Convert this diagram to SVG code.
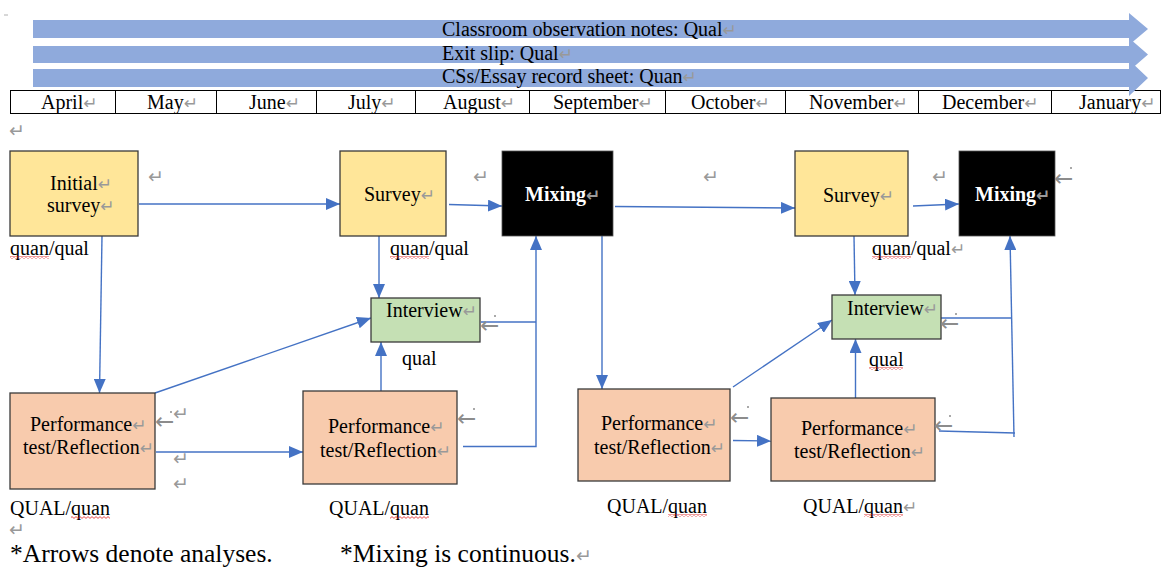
<svg xmlns="http://www.w3.org/2000/svg" width="1162" height="568" viewBox="0 0 1162 568">
  <defs>
    <style>
      text { font-family: "Liberation Serif", "Times New Roman", serif; font-size: 20px; fill: #000; }
      .pm { font-family: "DejaVu Sans", sans-serif; font-size: 19px; fill: #999; }
      .pmi { font-family: "DejaVu Sans", sans-serif; font-size: 17px; fill: #999; }
      .arr { font-family: "DejaVu Sans", sans-serif; font-size: 23px; fill: #8c8c8c; }
      .dot { fill: #8c8c8c; }
      .band { fill: #8FAADC; }
      .cell { fill: none; stroke: #000; stroke-width: 1; }
      .box { stroke: #3a3a3a; stroke-width: 1.3; }
      .yellow { fill: #FFE699; }
      .black { fill: #000; stroke: #555; stroke-width: 0.8; }
      .green { fill: #C5E0B4; }
      .peach { fill: #F8CBAD; }
      .mix { font-weight: bold; fill: #fff; }
      .link { fill: none; stroke: #4472C4; stroke-width: 1.4; }
      .foot { font-size: 25.5px; }
    </style>
    <marker id="head" markerUnits="userSpaceOnUse" markerWidth="14" markerHeight="12" refX="14" refY="6" orient="auto">
      <path d="M0,0 L14,6 L0,12 z" fill="#4472C4"/>
    </marker>
    <pattern id="squiggle" patternUnits="userSpaceOnUse" width="4" height="3">
      <path d="M0,0.6 L2,2.4 L4,0.6" fill="none" stroke="#e02020" stroke-width="0.8"/>
    </pattern>
  </defs>

  <rect width="1162" height="568" fill="#fff"/>
  <line x1="4" y1="15" x2="8" y2="15" stroke="#b0b0b0" stroke-width="1"/>

  <!-- month timeline -->
  <g id="timeline">
    <rect class="cell" x="10.5" y="90.5" width="1150" height="23"/>
    <path class="cell" d="M115.5,90.5V113.5 M216.5,90.5V113.5 M316.5,90.5V113.5 M415.5,90.5V113.5 M529.5,90.5V113.5 M665.5,90.5V113.5 M785.5,90.5V113.5 M918.5,90.5V113.5 M1051.5,90.5V113.5"/>
    <text x="41" y="109">April<tspan class="pmi">↵</tspan></text>
    <text x="147" y="109">May<tspan class="pmi">↵</tspan></text>
    <text x="249" y="109">June<tspan class="pmi">↵</tspan></text>
    <text x="348" y="109">July<tspan class="pmi">↵</tspan></text>
    <text x="443" y="109">August<tspan class="pmi">↵</tspan></text>
    <text x="553" y="109">September<tspan class="pmi">↵</tspan></text>
    <text x="691" y="109">October<tspan class="pmi">↵</tspan></text>
    <text x="809" y="109">November<tspan class="pmi">↵</tspan></text>
    <text x="942" y="109">December<tspan class="pmi">↵</tspan></text>
    <text x="1079" y="109">January<tspan class="pmi">↵</tspan></text>
  </g>

  <!-- continuous data-collection bands -->
  <g id="bands">
    <path class="band" d="M33,20 H1129 V13 L1148,29 L1129,45 V38 H33 z"/>
    <path class="band" d="M33,46 H1129 V38 L1148,54.5 L1129,71 V63 H33 z"/>
    <path class="band" d="M33,69 H1129 V60 L1148,78 L1129,96 V87 H33 z"/>
    <text x="442" y="36">Classroom observation notes: Qual<tspan class="pmi">↵</tspan></text>
    <text x="442" y="60">Exit slip: Qual<tspan class="pmi">↵</tspan></text>
    <text x="442" y="83">CSs/Essay record sheet: Quan<tspan class="pmi">↵</tspan></text>
  </g>

  <!-- connectors -->
  <g id="connectors">
    <path class="link" d="M139,204 L340,204" marker-end="url(#head)"/>
    <path class="link" d="M449,204.5 L502,206" marker-end="url(#head)"/>
    <path class="link" d="M615,206.5 L795,208" marker-end="url(#head)"/>
    <path class="link" d="M913,206 L959,204" marker-end="url(#head)"/>
    <path class="link" d="M102,236 L99.5,393" marker-end="url(#head)"/>
    <path class="link" d="M379,236 L379,298" marker-end="url(#head)"/>
    <path class="link" d="M155,393 L371,318" marker-end="url(#head)"/>
    <path class="link" d="M156,452 L303,452" marker-end="url(#head)"/>
    <path class="link" d="M381,391 L381,342" marker-end="url(#head)"/>
    <path class="link" d="M463,446.5 H536 V236" marker-end="url(#head)"/>
    <path class="link" d="M536,322 H481"/>
    <path class="link" d="M602,236 L602,389" marker-end="url(#head)"/>
    <path class="link" d="M733,387 L832,320" marker-end="url(#head)"/>
    <path class="link" d="M733,440.5 L771,441" marker-end="url(#head)"/>
    <path class="link" d="M854,236 L855,295" marker-end="url(#head)"/>
    <path class="link" d="M855.5,398 L855.5,339" marker-end="url(#head)"/>
    <path class="link" d="M939,431 L1015,433"/>
    <path class="link" d="M1014,437 L1010,236" marker-end="url(#head)"/>
    <path class="link" d="M1011,318 H941"/>
  </g>

  <!-- first cycle -->
  <g id="initial-survey">
    <rect class="box yellow" x="10" y="151" width="128" height="85"/>
    <text x="50" y="190">Initial<tspan class="pmi">↵</tspan></text>
    <text x="47" y="212">survey<tspan class="pmi">↵</tspan></text>
    <text x="10" y="255">quan/qual</text>
    <rect x="10" y="256" width="39" height="3" fill="url(#squiggle)"/>
  </g>

  <g id="survey-1">
    <rect class="box yellow" x="340" y="151" width="106" height="85"/>
    <text x="364" y="201">Survey<tspan class="pmi">↵</tspan></text>
    <text x="390" y="255">quan/qual</text>
    <rect x="390" y="256" width="39" height="3" fill="url(#squiggle)"/>
  </g>

  <g id="mixing-1">
    <rect class="black" x="502" y="151" width="111" height="85"/>
    <text class="mix" x="525" y="201">Mixing<tspan class="pmi">↵</tspan></text>
  </g>

  <g id="interview-1">
    <rect class="box green" x="371" y="298" width="109" height="44"/>
    <text x="386" y="317">Interview<tspan class="pmi">↵</tspan></text>
    <text x="402" y="365">qual</text>
  </g>

  <g id="performance-1">
    <rect class="box peach" x="10" y="393" width="145" height="96"/>
    <text x="30" y="431">Performance<tspan class="pmi">↵</tspan></text>
    <text x="23" y="454">test/Reflection<tspan class="pmi">↵</tspan></text>
    <text x="10" y="515">QUAL/quan</text>
    <rect x="71" y="516" width="39" height="3" fill="url(#squiggle)"/>
  </g>

  <g id="performance-2">
    <rect class="box peach" x="303" y="391" width="154" height="93"/>
    <text x="328" y="433">Performance<tspan class="pmi">↵</tspan></text>
    <text x="320" y="457">test/Reflection<tspan class="pmi">↵</tspan></text>
    <text x="329" y="515">QUAL/quan</text>
    <rect x="390" y="516" width="39" height="3" fill="url(#squiggle)"/>
  </g>

  <!-- second cycle -->
  <g id="survey-2">
    <rect class="box yellow" x="795" y="151" width="113" height="85"/>
    <text x="823" y="202">Survey<tspan class="pmi">↵</tspan></text>
    <text x="872" y="255">quan/qual<tspan class="pmi">↵</tspan></text>
    <rect x="872" y="256" width="39" height="3" fill="url(#squiggle)"/>
  </g>

  <g id="mixing-2">
    <rect class="black" x="959" y="151" width="96" height="85"/>
    <text class="mix" x="975" y="201">Mixing<tspan class="pmi">↵</tspan></text>
  </g>

  <g id="interview-2">
    <rect class="box green" x="832" y="295" width="109" height="44"/>
    <text x="847" y="315">Interview<tspan class="pmi">↵</tspan></text>
    <text x="869" y="366">qual</text>
    <rect x="869" y="367" width="34" height="3" fill="url(#squiggle)"/>
  </g>

  <g id="performance-3">
    <rect class="box peach" x="578" y="389" width="152" height="92"/>
    <text x="601" y="430">Performance<tspan class="pmi">↵</tspan></text>
    <text x="594" y="454">test/Reflection<tspan class="pmi">↵</tspan></text>
    <text x="607" y="513">QUAL/quan</text>
    <rect x="668" y="514" width="39" height="3" fill="url(#squiggle)"/>
  </g>

  <g id="performance-4">
    <rect class="box peach" x="771" y="398" width="164" height="83"/>
    <text x="801" y="435">Performance<tspan class="pmi">↵</tspan></text>
    <text x="794" y="458">test/Reflection<tspan class="pmi">↵</tspan></text>
    <text x="803" y="513">QUAL/quan<tspan class="pmi">↵</tspan></text>
    <rect x="864" y="514" width="39" height="3" fill="url(#squiggle)"/>
  </g>

  <!-- formatting marks -->
  <g id="marks">
    <text class="pm" x="9" y="137">↵</text>
    <text class="pm" x="148" y="183">↵</text>
    <text class="pm" x="473" y="183">↵</text>
    <text class="pm" x="703" y="183">↵</text>
    <text class="pm" x="932" y="183">↵</text>
    <text class="pm" x="173" y="420">↵</text>
    <text class="pm" x="173" y="465">↵</text>
    <text class="pm" x="173" y="490">↵</text>
    <text class="pm" x="9" y="536">↵</text>
    <text class="arr" x="1054" y="186">←</text><circle class="dot" cx="1071" cy="168" r="1"/>
    <text class="arr" x="480" y="333">←</text><circle class="dot" cx="495" cy="316" r="1"/>
    <text class="arr" x="940" y="331">←</text><circle class="dot" cx="956" cy="314" r="1"/>
    <text class="arr" x="155" y="429">←</text><circle class="dot" cx="171" cy="412" r="1"/>
    <text class="arr" x="457" y="426">←</text><circle class="dot" cx="474" cy="409" r="1"/>
    <text class="arr" x="730" y="425">←</text><circle class="dot" cx="748" cy="407" r="1"/>
    <text class="arr" x="934" y="433">←</text><circle class="dot" cx="950" cy="416" r="1"/>
  </g>

  <!-- footnotes -->
  <g id="notes">
    <text class="foot" x="10" y="562">*Arrows denote analyses.</text>
    <text class="foot" x="340" y="562">*Mixing is continuous.<tspan class="pm">↵</tspan></text>
  </g>
</svg>
